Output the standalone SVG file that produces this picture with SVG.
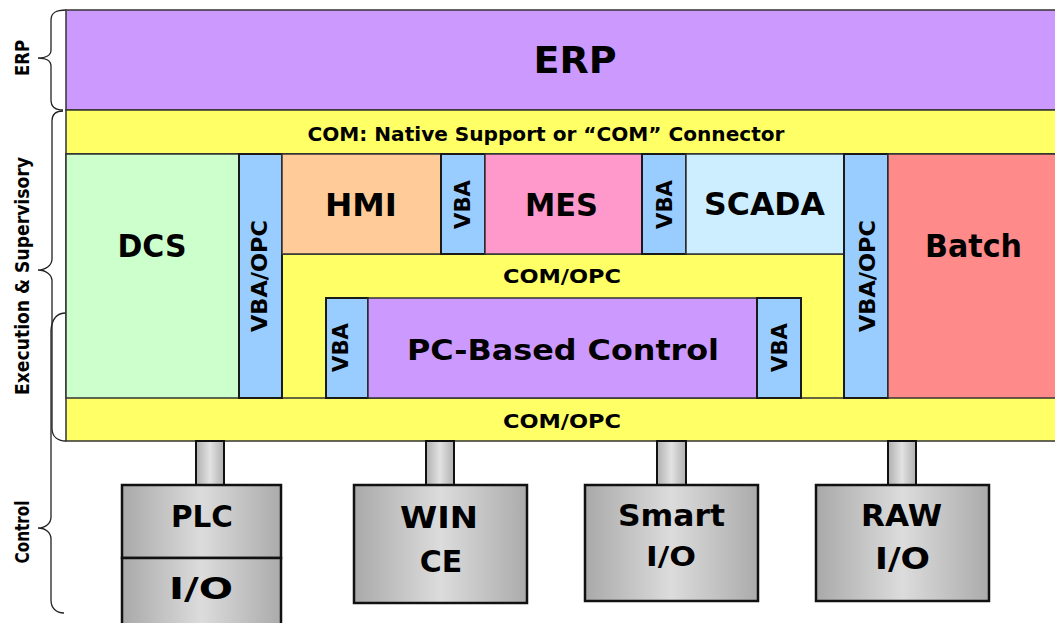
<svg xmlns="http://www.w3.org/2000/svg" width="1055" height="623" viewBox="0 0 1055 623">
<style>
.t{font-family:"DejaVu Sans","Liberation Sans",sans-serif;font-weight:bold;fill:#000;text-anchor:middle}
.b{stroke:#1a1a1a;stroke-width:2}
.thin{stroke:#333;stroke-width:1.5}
.brace{fill:none;stroke:#222;stroke-width:1.3}
.vba{fill:#99ccff}
.yel{fill:#ffff66}
.dev{fill:url(#gray);stroke:#111;stroke-width:2.5}
.stub{fill:url(#gray2);stroke:#111;stroke-width:2}
</style>
<defs>
<linearGradient id="gray" x1="0" y1="0" x2="1" y2="0">
<stop offset="0" stop-color="#a9a9a9"/><stop offset="0.5" stop-color="#dcdcdc"/><stop offset="1" stop-color="#ababab"/>
</linearGradient>
<linearGradient id="gray2" x1="0" y1="0" x2="1" y2="0">
<stop offset="0" stop-color="#b0b0b0"/><stop offset="0.5" stop-color="#e2e2e2"/><stop offset="1" stop-color="#b0b0b0"/>
</linearGradient>
</defs>
<rect width="1055" height="623" fill="#fff"/>

<g id="braces">
<path class="brace" d="M66,10 C57,10 51,12 51,20 L51,50 C51,55 46,58 38,58 C46,58 51,61 51,66 L51,100 C51,107 55,110 63,110"/>
<path class="brace" d="M63,111 C56,111 52,114 52,121 L52,259 C52,265 46,270 38,270 C46,270 52,275 52,281 L52,428 C52,436 57,441 66,441"/>
<path class="brace" d="M66,313 C58,313 52,318 51,330 L51,517 C51,523 46,528 38,528 C46,528 51,533 51,539 L51,600 C51,608 56,613 64,613"/>
<text class="t" font-size="20" transform="translate(29,58) rotate(-90)" textLength="36" lengthAdjust="spacingAndGlyphs">ERP</text>
<text class="t" font-size="20" transform="translate(29,276) rotate(-90)" textLength="238" lengthAdjust="spacingAndGlyphs">Execution &amp; Supervisory</text>
<text class="t" font-size="20" transform="translate(29,532) rotate(-90)" textLength="63" lengthAdjust="spacingAndGlyphs">Control</text>
</g>

<g id="erp">
<rect x="66" y="10" width="995" height="100" fill="#cc99ff" class="thin"/>
<text class="t" x="575" y="73" font-size="38">ERP</text>
</g>

<g id="com-native">
<rect x="66" y="110" width="995" height="44" class="yel thin"/>
<text class="t" x="546" y="141" font-size="20" textLength="477" lengthAdjust="spacingAndGlyphs">COM: Native Support or “COM” Connector</text>
</g>

<g id="com-opc-bottom">
<rect x="66" y="154" width="995" height="287" class="yel thin"/>
<text class="t" x="562" y="428" font-size="20" textLength="118" lengthAdjust="spacingAndGlyphs">COM/OPC</text>
</g>

<g id="com-opc-inner">
<rect x="282" y="254" width="562" height="144" class="yel thin"/>
<text class="t" x="562" y="283" font-size="20" textLength="118" lengthAdjust="spacingAndGlyphs">COM/OPC</text>
</g>

<g id="dcs">
<rect x="66" y="154" width="173" height="244" fill="#ccffcc" class="thin"/>
<text class="t" x="152" y="257" font-size="32" textLength="69" lengthAdjust="spacingAndGlyphs">DCS</text>
</g>

<g id="vba-opc-left">
<rect x="239" y="154" width="43" height="244" class="vba b"/>
<text class="t" font-size="22" transform="translate(267,276) rotate(-90)" textLength="112" lengthAdjust="spacingAndGlyphs">VBA/OPC</text>
</g>

<g id="hmi">
<rect x="282" y="154" width="159" height="100" fill="#ffcc99" class="thin"/>
<text class="t" x="361" y="216" font-size="32" textLength="72" lengthAdjust="spacingAndGlyphs">HMI</text>
</g>

<g id="vba-hmi-mes">
<rect x="441" y="154" width="44" height="100" class="vba b"/>
<text class="t" font-size="21" transform="translate(470,204.5) rotate(-90)" textLength="49" lengthAdjust="spacingAndGlyphs">VBA</text>
</g>

<g id="mes">
<rect x="485" y="154" width="157" height="100" fill="#ff99cc" class="thin"/>
<text class="t" x="561.5" y="216" font-size="32" textLength="73" lengthAdjust="spacingAndGlyphs">MES</text>
</g>

<g id="vba-mes-scada">
<rect x="642" y="154" width="44" height="100" class="vba b"/>
<text class="t" font-size="21" transform="translate(672,204.5) rotate(-90)" textLength="49" lengthAdjust="spacingAndGlyphs">VBA</text>
</g>

<g id="scada">
<rect x="686" y="154" width="158" height="100" fill="#cceeff" class="thin"/>
<text class="t" x="764.5" y="215" font-size="32" textLength="121" lengthAdjust="spacingAndGlyphs">SCADA</text>
</g>

<g id="vba-opc-right">
<rect x="844" y="154" width="44" height="244" class="vba b"/>
<text class="t" font-size="22" transform="translate(875,276) rotate(-90)" textLength="112" lengthAdjust="spacingAndGlyphs">VBA/OPC</text>
</g>

<g id="batch">
<rect x="888" y="154" width="173" height="244" fill="#ff8a8a" class="thin"/>
<text class="t" x="973.5" y="257" font-size="32" textLength="97" lengthAdjust="spacingAndGlyphs">Batch</text>
</g>

<g id="vba-pc-left">
<rect x="326" y="298" width="42" height="100" class="vba b"/>
<text class="t" font-size="21" transform="translate(348,347.5) rotate(-90)" textLength="49" lengthAdjust="spacingAndGlyphs">VBA</text>
</g>

<g id="pc-based-control">
<rect x="368" y="298" width="389" height="100" fill="#cc99ff" class="thin"/>
<text class="t" x="563" y="360" font-size="29" textLength="312" lengthAdjust="spacingAndGlyphs">PC-Based Control</text>
</g>

<g id="vba-pc-right">
<rect x="757" y="298" width="44" height="100" class="vba b"/>
<text class="t" font-size="21" transform="translate(787,347.5) rotate(-90)" textLength="49" lengthAdjust="spacingAndGlyphs">VBA</text>
</g>

<g id="connectors">
<rect x="196" y="441" width="28" height="44" class="stub"/>
<rect x="426" y="441" width="28" height="44" class="stub"/>
<rect x="657" y="441" width="29" height="44" class="stub"/>
<rect x="888" y="441" width="28" height="44" class="stub"/>
</g>

<g id="plc">
<rect x="122" y="485" width="159" height="73" class="dev"/>
<text class="t" x="202" y="527" font-size="30" textLength="62" lengthAdjust="spacingAndGlyphs">PLC</text>
</g>

<g id="plc-io">
<rect x="122" y="558" width="159" height="70" class="dev"/>
<text class="t" x="201" y="599" font-size="31" textLength="64" lengthAdjust="spacingAndGlyphs">I/O</text>
</g>

<g id="win-ce">
<rect x="354" y="485" width="173" height="118" class="dev"/>
<text class="t" x="439" y="528" font-size="30" textLength="78" lengthAdjust="spacingAndGlyphs">WIN</text>
<text class="t" x="441" y="572" font-size="30">CE</text>
</g>

<g id="smart-io">
<rect x="585" y="485" width="173" height="116" class="dev"/>
<text class="t" x="671.5" y="526" font-size="30" textLength="107" lengthAdjust="spacingAndGlyphs">Smart</text>
<text class="t" x="671" y="566" font-size="27" textLength="50" lengthAdjust="spacingAndGlyphs">I/O</text>
</g>

<g id="raw-io">
<rect x="816" y="485" width="173" height="116" class="dev"/>
<text class="t" x="901.5" y="526" font-size="30" textLength="81" lengthAdjust="spacingAndGlyphs">RAW</text>
<text class="t" x="902.5" y="569" font-size="30" textLength="55" lengthAdjust="spacingAndGlyphs">I/O</text>
</g>
</svg>
